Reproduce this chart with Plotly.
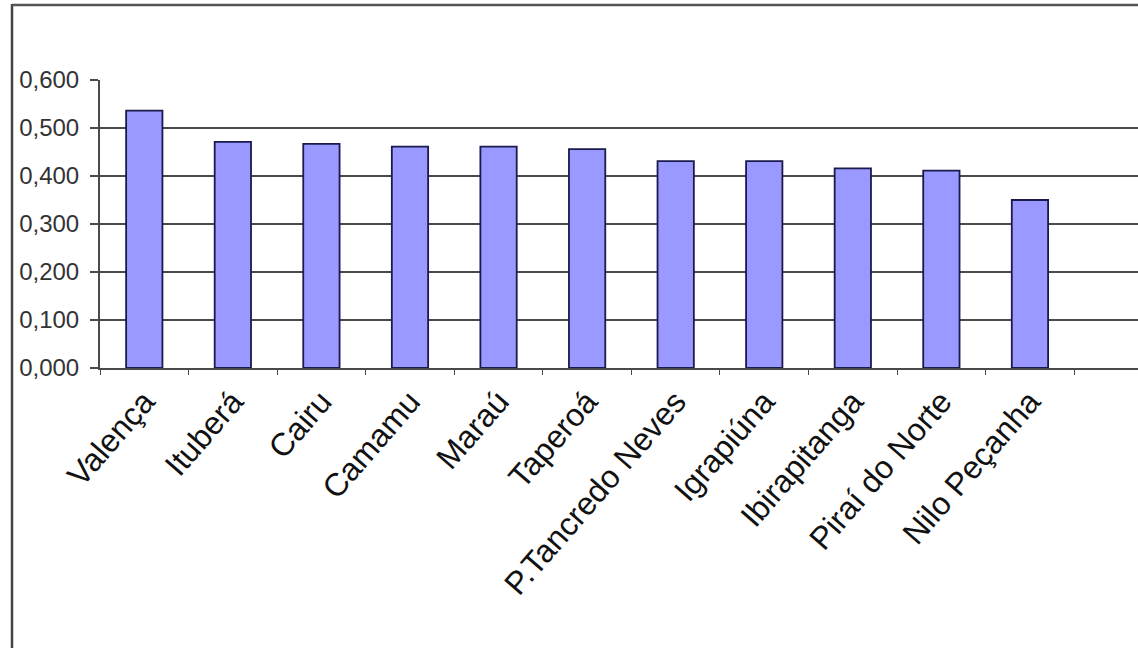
import plotly.graph_objects as go

categories = ["Valença", "Ituberá", "Cairu", "Camamu", "Maraú", "Taperoá",
              "P.Tancredo Neves", "Igrapiúna", "Ibirapitanga", "Piraí do Norte", "Nilo Peçanha"]
values = [0.536, 0.471, 0.467, 0.461, 0.461, 0.456, 0.431, 0.431, 0.416, 0.411, 0.350]
y_ticks = [0.0, 0.1, 0.2, 0.3, 0.4, 0.5, 0.6]

W, H = 1138, 648
ml, mt, mb = 100, 80, 280
pw, ph = W - ml, H - mt - mb

fig = go.Figure(go.Bar(
    x=categories, y=values, width=0.41,
    marker=dict(color="#9999FF", line=dict(color="#1a1a4d", width=1.8)),
))

def px_x(p):
    return (p - ml) / pw

def px_y(p):
    return (H - mb - p) / ph

grid_col = "#4a4a4a"
fig.update_layout(
    width=W, height=H,
    margin=dict(l=ml, r=0, t=mt, b=mb, pad=0),
    paper_bgcolor="white", plot_bgcolor="white",
    separators=",.",
    showlegend=False,
    font=dict(family="Liberation Sans, Arial, sans-serif", color="#1a1a1a"),
    xaxis=dict(
        range=[-0.5, 11.22], tickangle=-49, showgrid=False,
        showline=True, linecolor=grid_col, linewidth=2,
        ticks="outside", tickson="boundaries", ticklen=5, tickcolor=grid_col,
        tickfont=dict(size=32, color="#111"),
    ),
    yaxis=dict(
        range=[0, 0.6], tickvals=y_ticks, tickformat=".3f",
        showgrid=True, gridcolor=grid_col, gridwidth=2,
        showline=True, linecolor=grid_col, linewidth=2,
        ticks="outside", ticklen=8, tickcolor=grid_col, tickwidth=2,
        ticklabelstandoff=6,
        tickfont=dict(size=24, color="#333"), zeroline=False,
    ),
    shapes=[
        dict(type="line", xref="paper", yref="paper",
             x0=px_x(12), x1=px_x(12), y0=px_y(4), y1=px_y(H),
             line=dict(color="#444", width=2.5)),
        dict(type="line", xref="paper", yref="paper",
             x0=px_x(12), x1=1.0, y0=px_y(5), y1=px_y(5),
             line=dict(color="#555", width=2.5)),
    ],
)

fig.write_html("out.html")
